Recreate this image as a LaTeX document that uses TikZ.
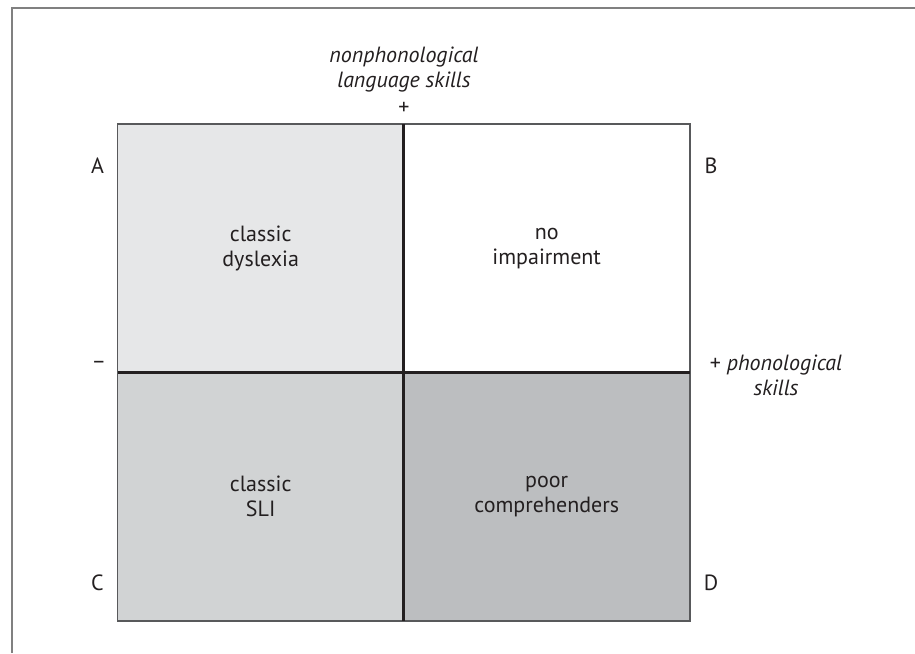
\documentclass[tikz,border=0pt]{standalone}
\usepackage{fontspec}
\setsansfont{PT Sans}
\usetikzlibrary{positioning}

\definecolor{quadA}{HTML}{E6E7E8}
\definecolor{quadC}{HTML}{D1D3D4}
\definecolor{quadD}{HTML}{BCBEC0}
\definecolor{framegray}{HTML}{808080}
\definecolor{boxgray}{HTML}{58595B}
\definecolor{axisblack}{HTML}{231F20}

\begin{document}
\begin{tikzpicture}[
    x=1pt, y=-1pt,
    font=\sffamily\fontsize{22}{25}\selectfont,
    every node/.style={text=axisblack},
    quad/.style={
        minimum width=286pt,
        minimum height=248pt,
        inner sep=0pt,
        anchor=north west,
        align=center
    },
    corner/.style={inner sep=0pt},
    axislabel/.style={inner sep=0pt, align=center},
    boxline/.style={draw=boxgray, line width=1.5pt},
    axisline/.style={draw=axisblack, line width=3pt}
]
    \useasboundingbox (0,0) rectangle (915,653);

    % Frame (only top and left edges)
    \draw[framegray, line width=2pt] (12,653) |- (915,7.5);

    % Quadrants
    \node[quad, fill=quadA] (qA) at (117.5,124)   {classic\\dyslexia};
    \node[quad, fill=white] (qB) at (403.5,124)   {no\\impairment};
    \node[quad, fill=quadC] (qC) at (117.5,372.5) {classic\\SLI};
    \node[quad, fill=quadD] (qD) at (403.5,372.5) {poor\\comprehenders};

    % Outline and axes
    \draw[boxline] (qA.north west) rectangle (qD.south east);
    \draw[axisline] (qA.north east) -- (qC.south east);
    \draw[axisline] (qA.south west) -- (qB.south east);

    % Corner letters
    \node[corner] (A) at (97.5,166) {A};
    \node[corner] (B) at (711,166)  {B};
    \node[corner] (C) at (97.5,583) {C};
    \node[corner] (D) at (711,583)  {D};

    % Axis labels
    \node[axislabel] (plusTop) at (404,108) {+};
    \node[axislabel, above=9pt of plusTop] (vlabel)
        {\itshape nonphonological\\\itshape language skills};
    \node[axislabel] (minus) at (99,365) {--};
    \node[axislabel] (hlabel) at (776,375)
        {+ \itshape phonological\\\itshape skills};

\end{tikzpicture}
\end{document}
